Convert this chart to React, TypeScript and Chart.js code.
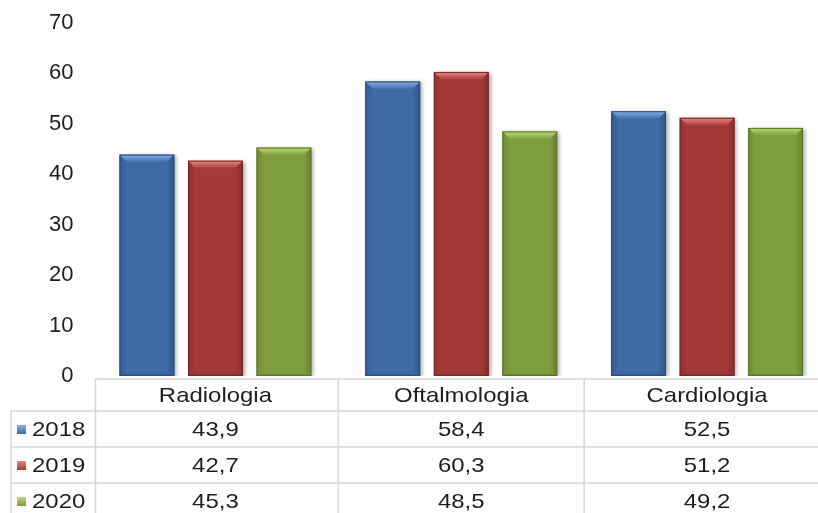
import React, { useEffect, useRef } from "react";
import { Chart, registerables } from "chart.js";

Chart.register(...registerables);

const categories = ["Radiologia", "Oftalmologia", "Cardiologia"];
const seriesLabels = ["2018", "2019", "2020"];
const values2018 = [43.9, 58.4, 52.5];
const values2019 = [42.7, 60.3, 51.2];
const values2020 = [45.3, 48.5, 49.2];
const yMin = 0;
const yMax = 70;
const yStep = 10;

const baseColors = ["#3e6aa6", "#a33a37", "#809d3d"];
const lightColors = ["#86b0e8", "#ee8884", "#bedb7a"];
const darkColors = ["#2a4a78", "#722725", "#5a7129"];

const TEXT = "#1e1e1e";
const LINE = "#d6d6d6";
const FONT = "'Liberation Sans', Arial, sans-serif";

const bevelPlugin = {
  id: "bevel",
  beforeDatasetsDraw(chart: any) {
    const ctx = chart.ctx;
    ctx.save();
    ctx.shadowColor = "rgba(0,0,0,0.35)";
    ctx.shadowBlur = 4;
    ctx.shadowOffsetX = 2;
    ctx.shadowOffsetY = 1;
  },
  afterDatasetsDraw(chart: any) {
    const ctx = chart.ctx;
    ctx.restore();
    chart.data.datasets.forEach((ds: any, di: number) => {
      const meta = chart.getDatasetMeta(di);
      meta.data.forEach((bar: any) => {
        const { x, y, base, width } = bar.getProps(["x", "y", "base", "width"], true);
        const l = x - width / 2;
        const r = x + width / 2;
        const t = y;
        const b = base;
        const bv = 8;
        ctx.save();
        let g = ctx.createLinearGradient(0, t, 0, t + bv);
        g.addColorStop(0, lightColors[di]);
        g.addColorStop(1, baseColors[di]);
        ctx.fillStyle = g;
        ctx.beginPath();
        ctx.moveTo(l, t);
        ctx.lineTo(r, t);
        ctx.lineTo(r - bv, t + bv);
        ctx.lineTo(l + bv, t + bv);
        ctx.closePath();
        ctx.fill();
        g = ctx.createLinearGradient(l, 0, l + bv, 0);
        g.addColorStop(0, darkColors[di]);
        g.addColorStop(1, baseColors[di]);
        ctx.globalAlpha = 0.4;
        ctx.fillStyle = g;
        ctx.beginPath();
        ctx.moveTo(l, t);
        ctx.lineTo(l + bv, t + bv);
        ctx.lineTo(l + bv, b - 2);
        ctx.lineTo(l, b);
        ctx.closePath();
        ctx.fill();
        g = ctx.createLinearGradient(r, 0, r - bv, 0);
        g.addColorStop(0, darkColors[di]);
        g.addColorStop(1, baseColors[di]);
        ctx.globalAlpha = 0.6;
        ctx.fillStyle = g;
        ctx.beginPath();
        ctx.moveTo(r, t);
        ctx.lineTo(r - bv, t + bv);
        ctx.lineTo(r - bv, b - 2);
        ctx.lineTo(r, b);
        ctx.closePath();
        ctx.fill();
        g = ctx.createLinearGradient(0, b, 0, b - 3);
        g.addColorStop(0, darkColors[di]);
        g.addColorStop(1, baseColors[di]);
        ctx.globalAlpha = 0.7;
        ctx.fillStyle = g;
        ctx.fillRect(l, b - 3, width, 3);
        ctx.globalAlpha = 1;
        ctx.strokeStyle = darkColors[di];
        ctx.lineWidth = 1;
        ctx.strokeRect(l + 0.5, t + 0.5, width - 1, b - t - 1);
        ctx.restore();
      });
    });
  },
};

const tablePlugin = {
  id: "dataTable",
  afterDraw(chart: any) {
    const ctx = chart.ctx;
    const xs = chart.scales.x;
    const area = chart.chartArea;
    const W = chart.width;
    const H = chart.height;
    const headTop = area.bottom + 3;
    const rowH = 36;
    const headBottom = headTop + 32;
    const firstCol = area.left + 3;
    const leftEdge = 11;
    const centers = categories.map((_, i) => xs.getPixelForValue(i));
    const bounds = centers.slice(0, -1).map((c, i) => (c + centers[i + 1]) / 2);

    ctx.save();
    ctx.strokeStyle = LINE;
    ctx.lineWidth = 1.5;
    ctx.beginPath();
    ctx.moveTo(firstCol, headTop);
    ctx.lineTo(W, headTop);
    for (let r = 0; r < 3; r++) {
      const yy = headBottom + r * rowH;
      ctx.moveTo(leftEdge, yy);
      ctx.lineTo(W, yy);
    }
    ctx.moveTo(leftEdge, headBottom);
    ctx.lineTo(leftEdge, H);
    ctx.moveTo(firstCol, headTop);
    ctx.lineTo(firstCol, H);
    bounds.forEach((bx) => {
      ctx.moveTo(bx, headTop);
      ctx.lineTo(bx, H);
    });
    ctx.stroke();

    const sx = 1.14;
    const drawText = (txt: string, x: number, y: number, align: string) => {
      ctx.save();
      ctx.translate(x, y);
      ctx.scale(sx, 1);
      ctx.textAlign = align;
      ctx.textBaseline = "middle";
      ctx.fillText(txt, 0, 0);
      ctx.restore();
    };
    ctx.fillStyle = TEXT;
    ctx.font = `21px ${FONT}`;
    categories.forEach((c, i) => drawText(c, centers[i], headTop + 17, "center"));
    const series = [values2018, values2019, values2020];
    series.forEach((vals, r) => {
      const cy = headBottom + r * rowH + rowH / 2 + 1;
      const sq = 9;
      const g = ctx.createLinearGradient(0, cy - 5, 0, cy + 4);
      g.addColorStop(0, lightColors[r]);
      g.addColorStop(1, baseColors[r]);
      ctx.fillStyle = g;
      ctx.fillRect(17, cy - 5, sq, sq);
      ctx.fillStyle = TEXT;
      drawText(seriesLabels[r], 32, cy, "left");
      vals.forEach((v, i) => drawText(v.toFixed(1).replace(".", ","), centers[i], cy, "center"));
    });
    ctx.restore();
  },
};

export default function App() {
  const ref = useRef<HTMLCanvasElement | null>(null);
  useEffect(() => {
    if (!ref.current) return;
    const datasets = [values2018, values2019, values2020].map((vals, i) => ({
      label: seriesLabels[i],
      data: vals,
      backgroundColor: baseColors[i],
      borderWidth: 0,
      barPercentage: 0.8,
      categoryPercentage: 0.836,
    }));
    const chart = new Chart(ref.current, {
      type: "bar",
      data: { labels: categories, datasets },
      options: {
        responsive: false,
        animation: false,
        devicePixelRatio: 1,
        layout: { padding: { top: 23, bottom: 137, left: 0, right: 0 } },
        plugins: { legend: { display: false }, tooltip: { enabled: false } },
        scales: {
          x: { display: false },
          y: {
            min: yMin,
            max: yMax,
            ticks: {
              stepSize: yStep,
              padding: 19,
              color: TEXT,
              font: { family: FONT, size: 22 },
            },
            grid: { display: false, drawTicks: false },
            border: { display: false },
            afterFit: (scale: any) => {
              scale.width = 92.5;
              scale.paddingTop = 12;
              scale.paddingBottom = 12;
            },
          },
        },
      },
      plugins: [bevelPlugin, tablePlugin],
    } as any);
    return () => chart.destroy();
  }, []);
  return (
    <div style={{ position: "fixed", left: 0, top: 0, width: 818, height: 513, overflow: "hidden", background: "#fff" }}>
      <canvas ref={ref} width={830} height={513} style={{ display: "block" }} />
    </div>
  );
}
